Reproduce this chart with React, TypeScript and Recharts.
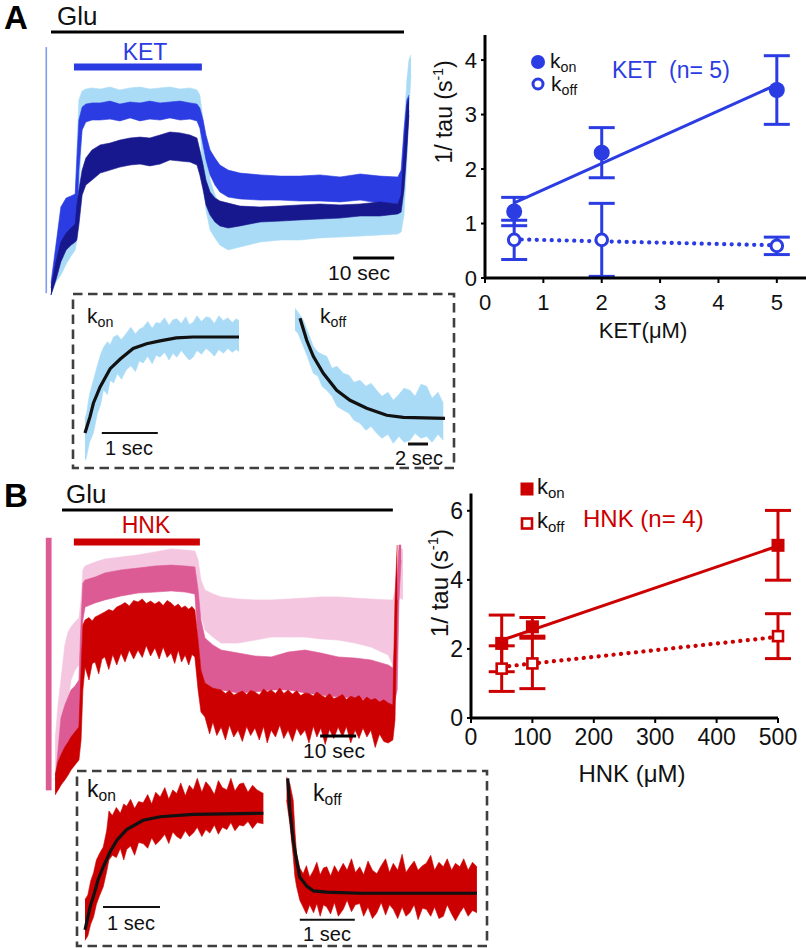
import { ComposedChart, Area, Line, Scatter, ErrorBar, XAxis, YAxis } from 'recharts'

const FONT = '"Liberation Sans", Arial, Helvetica, sans-serif'

const BLUE = '#2b3ce2'
const LIGHT_BLUE = '#a9dbf7'
const NAVY = '#17178e'
const RED = '#cc0000'
const PINK = '#dc5b94'
const LIGHT_PINK = '#f4c6df'
const INK = '#111'

type Band = [number, number, number][] // [time, low, high]
type Pts = [number, number][] // [time, value]

// ---- A: whole-cell traces (time in s, response in % of full scale)
const ketLight: Band = [
  [0, 1.7, 5], [1.2, 6, 12.7], [2.4, 8.3, 28.3], [3.7, 12, 31.7], [4.9, 14.7, 33.3], [5.9, 16.7, 34],
  [6.3, 20, 50], [6.8, 33.3, 66.7], [7.6, 60, 69.7], [8.5, 63.3, 70.3], [10, 64, 70.7], [12, 64, 70.3],
  [14.4, 64, 71], [16.8, 64, 70], [19.3, 64, 70.7], [21.7, 64, 71], [24.1, 64, 70.3], [26.6, 64, 70.7],
  [29, 64, 71], [31.5, 64, 70.3], [33.9, 64, 70.7], [35.6, 64, 70], [36.3, 60, 68.3], [37.1, 40, 60],
  [37.8, 30, 48.3], [38.8, 23.3, 40], [40, 20.7, 35], [41.2, 18.3, 31.7], [43.2, 16.7, 30], [46.1, 17.7, 29.3],
  [51, 19.3, 29.3], [55.9, 20, 29.3], [60.7, 20, 29.3], [65.6, 20.7, 30], [70.5, 21, 30], [75.4, 21.3, 30.7],
  [80.2, 21.7, 30.7], [84.6, 22, 30.7], [85.4, 22.7, 33.3], [86.1, 28.3, 56.7], [86.8, 46.7, 73.3],
  [87.3, 63.3, 80], [87.8, 75, 81.7],
]
const ketMid: Band = [
  [0, 1.7, 5.7], [1.2, 8.3, 18.3], [2.4, 15, 31], [3.7, 18.3, 34], [4.9, 20, 34.7], [5.9, 21.3, 35.3],
  [6.3, 26.7, 46.7], [6.8, 43.3, 60], [7.6, 56.7, 64.3], [8.5, 59.3, 65.3], [10, 60, 65.7], [12, 60, 65.7],
  [14.4, 60.3, 66.3], [16.8, 59.7, 65.3], [19.3, 60.7, 66], [21.7, 59.7, 65.7], [24.1, 60.3, 66.3],
  [26.6, 60, 65.7], [29, 60.7, 66], [31.5, 60, 66.3], [33.9, 60.3, 65.7], [35.6, 59.7, 65.3], [36.3, 57.3, 64],
  [37.1, 51.7, 60], [37.8, 46.7, 55], [38.8, 41.7, 50], [40, 38.3, 47.3], [41.2, 36, 45], [43.2, 34.3, 43.3],
  [46.1, 33.7, 42.3], [51, 33.3, 41.7], [55.9, 33.3, 41.3], [60.7, 33, 41.3], [65.6, 33, 41.7], [70.5, 32.7, 41],
  [75.4, 33.3, 42], [80.2, 32.3, 41.3], [84.6, 32, 41], [85.4, 33.3, 43.3], [86.1, 40, 56.7], [86.8, 53.3, 66.7],
  [87.3, 63.3, 68.3],
]
const ketDark: Band = [
  [0, 1.7, 4], [1.2, 6.7, 12.7], [2.4, 12.7, 19.3], [3.7, 16.7, 22.3], [4.9, 18.3, 24], [5.9, 19.3, 25.3],
  [6.3, 20, 31.7], [6.8, 25, 36.7], [7.6, 35, 43.3], [8.5, 38.3, 47.3], [10, 40, 50], [12, 42.3, 51.7],
  [14.4, 43.3, 52.3], [16.8, 44.3, 53.3], [19.3, 45, 54], [21.7, 45.3, 54.3], [24.1, 44.7, 54], [26.6, 45.3, 55],
  [29, 46.7, 56], [31.5, 46.3, 55.7], [33.9, 46, 55], [35.6, 45, 54], [36.3, 41.7, 50], [37.1, 36.7, 45],
  [37.8, 31.7, 40], [38.8, 28.3, 36], [40, 26, 34], [41.2, 24.7, 33], [43.2, 24, 32.3], [46.1, 24.7, 31.3],
  [51, 26, 31], [55.9, 26.3, 31.3], [60.7, 26.7, 31.7], [65.6, 27, 32], [70.5, 27.3, 31.7], [75.4, 28, 32],
  [80.2, 28, 32.7], [84.6, 28.7, 32], [85.4, 29.3, 35], [86.1, 36.7, 50], [86.8, 50, 65], [87.3, 61.7, 67.3],
]
const ketSpike: Pts = [[-1.15, 84.3], [-1.15, 2.3]]
const gluBarA: Pts = [[0, 89.3], [86.1, 89.3]]
const ketBar: Pts = [[5.6, 77.7], [36.8, 77.7]]
const scaleA: Pts = [[73.7, 14], [83.7, 14]]

// ---- B: whole-cell traces
const hnkLight: Band = [
  [-1.9, 3.3, 20], [-1.1, 8.3, 31.7], [-0.3, 13.3, 40], [0.8, 26.7, 51.7], [1.7, 33.3, 56], [2.5, 40, 57.7],
  [3.6, 43.3, 59.3], [4.7, 45, 60.7], [5.3, 50, 66.7], [5.8, 66.7, 76.7], [6.4, 70, 78], [9.2, 71.7, 79.3],
  [11.9, 71.7, 80.3], [16.4, 73.3, 81], [21.1, 73.3, 81.7], [25.8, 74, 82.7], [30.3, 75, 83.7], [34.2, 75, 83.3],
  [36.9, 74.3, 83], [37.8, 70, 80], [38.6, 61.7, 73.3], [39.7, 56.7, 70], [41.9, 54.3, 68.7], [44.2, 52.3, 67.7],
  [48.9, 52.3, 67], [53.6, 53.3, 66.7], [58.1, 54.3, 66.7], [62.8, 54.3, 67], [67.5, 54.3, 67.3], [71.9, 53.7, 67.7],
  [76.7, 53.3, 67.7], [81.4, 52.3, 67.3], [85.8, 51, 67], [90.6, 48.3, 66.7], [91.9, 45, 66.7], [92.5, 53.3, 70],
  [93.1, 60, 80], [93.6, 66.7, 83.3], [94.2, 67.3, 84], [94.7, 66.7, 83.3],
]
const hnkMid: Band = [
  [-1.9, 2.7, 6.7], [-1.1, 3.3, 16.7], [-0.3, 5, 27.3], [0.8, 8.3, 31.7], [1.7, 11.7, 34.3], [2.5, 15, 36.7],
  [3.6, 18.3, 38], [4.7, 20, 40], [5.3, 33.3, 60], [5.8, 60, 72.3], [6.4, 64.3, 73.3], [9.2, 65.7, 74.3],
  [11.9, 66.7, 75.7], [16.4, 68, 76.7], [21.1, 69, 77.3], [25.8, 69.3, 78], [30.3, 69.7, 78.3], [34.2, 69.3, 78],
  [36.9, 68.7, 77.7], [37.8, 53.3, 70], [38.6, 43.3, 60], [39.7, 39, 54], [41.9, 37.3, 51.7], [44.2, 36.7, 50],
  [48.9, 35.7, 49], [53.6, 36, 48], [58.1, 36.7, 47.7], [62.8, 36.7, 49.3], [67.5, 35.7, 50], [71.9, 35, 49],
  [76.7, 34.3, 47.7], [81.4, 34, 47.3], [85.8, 33.3, 46.7], [90.6, 31.7, 45], [91.9, 31.7, 44], [92.5, 33.3, 53.3],
  [93.1, 36.7, 73.3], [93.6, 66.7, 85], [94.2, 80, 85],
]
const hnkRed: Band = [
  [-1.9, 1.7, 8.3], [-1.1, 3.3, 12.7], [-0.3, 5, 15], [0.8, 6.7, 17.7], [1.7, 8.3, 19.3], [2.5, 10, 21],
  [3.6, 11.7, 22.7], [4.7, 13.3, 24.3], [5.3, 20, 43.3], [5.8, 36.7, 58.3],
  [6.4, 44.3, 60], [7.5, 40, 60.8], [8.4, 45.5, 59.7], [9.2, 46, 61], [10.2, 42, 61.6], [11.1, 47, 62.2],
  [11.9, 47.7, 62.7], [13, 43.5, 63.5], [14.1, 48.5, 63], [15.2, 45, 64.3], [16.4, 49, 65], [17.5, 46, 65.8],
  [18.7, 50, 64.7], [19.9, 47, 66.5], [21.1, 50, 66], [22.3, 47.5, 67], [23.4, 51.5, 65.5], [24.6, 48, 66.3],
  [25.8, 50.7, 65.3], [27, 47, 66.2], [28.1, 51, 64.8], [29.2, 47.5, 66.5], [30.3, 49, 65.7], [31.3, 45.5, 64.5],
  [32.3, 50, 65.3], [33.2, 46, 64], [34.2, 48.3, 64.7], [35.2, 45, 63.6], [36.1, 48.5, 64.5], [36.9, 47.7, 63.3],
  [37.8, 36.7, 53.3], [38.6, 29.3, 43.3],
  [39.7, 27.7, 39], [41, 22, 38], [41.9, 26, 37.3], [43, 21.5, 37], [44.2, 24.3, 36.7], [45.4, 20, 35.5],
  [46.5, 25, 36.5], [47.7, 21, 35], [48.9, 23.3, 35.7], [50.1, 19.5, 36.3], [51.3, 24.5, 35.2], [52.4, 21.5, 36.5],
  [53.6, 24, 36], [54.8, 20, 35], [56, 24.5, 37], [57, 19, 36], [58.1, 23.3, 36.7], [59.3, 21, 35.5],
  [60.5, 25, 37.3], [61.6, 20.5, 35.5], [62.8, 23.3, 36.7], [64, 19.5, 35.3], [65.2, 24, 36.4], [66.3, 21.5, 34.8],
  [67.5, 23.3, 35.7], [68.6, 19, 35.5], [69.8, 24.6, 34.7], [70.8, 21, 36], [71.9, 24, 35], [73.1, 18.5, 34.2],
  [74.3, 23.5, 35.4], [75.5, 20.5, 33.8], [76.7, 24.3, 34.3], [77.9, 21, 35.2], [79, 24.5, 33.5], [80.2, 19, 34.6],
  [81.4, 23.3, 34], [82.5, 20.5, 34.8], [83.6, 24, 33.2], [84.7, 21, 34.3], [85.8, 23.3, 33.3], [87, 17.5, 33.8],
  [88.2, 22, 32.7], [89.4, 19.5, 33.4], [90.6, 19, 32.3], [91.9, 20, 31.7], [92.5, 26.7, 66.7], [93.1, 66.7, 85],
]
const hnkSpike: Band = [[-4.5, 3.3, 87.3], [-2.9, 3.3, 87.3]]
const gluBarB: Pts = [[0, 96.7], [91.9, 96.7]]
const hnkBar: Pts = [[3.3, 86], [38.3, 86]]
const scaleB: Pts = [[71.7, 21.3], [81.7, 21.3]]

// ---- insets (time in s, normalised amplitude)
const ketOnTrace: Band = [
  [0, -0.3, 0.15], [0.03, -0.24, 0.21], [0.08, -0.1, 0.4], [0.15, 0, 0.55], [0.22, 0.2, 0.7], [0.28, 0.3, 0.82],
  [0.33, 0.45, 0.89], [0.4, 0.4, 0.95], [0.45, 0.55, 0.92], [0.51, 0.52, 1.0], [0.58, 0.62, 1.02], [0.65, 0.56, 0.97],
  [0.74, 0.66, 1.04], [0.82, 0.7, 1.1], [0.9, 0.64, 1.03], [0.97, 0.75, 1.08], [1.04, 0.73, 1.1], [1.12, 0.8, 1.16],
  [1.2, 0.72, 1.09], [1.27, 0.81, 1.15], [1.34, 0.79, 1.14], [1.42, 0.84, 1.2], [1.5, 0.76, 1.12], [1.57, 0.83, 1.18],
  [1.64, 0.79, 1.19], [1.72, 0.86, 1.14], [1.8, 0.8, 1.21], [1.86, 0.76, 1.13], [1.93, 0.79, 1.15], [2.0, 0.86, 1.22],
  [2.08, 0.82, 1.16], [2.16, 0.88, 1.21], [2.23, 0.85, 1.2], [2.31, 0.8, 1.14], [2.39, 0.87, 1.22], [2.47, 0.83, 1.17],
  [2.55, 0.88, 1.2], [2.63, 0.84, 1.15], [2.7, 0.87, 1.19], [2.75, 0.85, 1.17],
]
const ketOnFit: Pts = [
  [0, 0], [0.09, 0.17], [0.15, 0.31], [0.27, 0.48], [0.45, 0.67], [0.63, 0.77], [0.86, 0.88], [1.1, 0.93],
  [1.34, 0.96], [1.63, 0.99], [1.93, 1.0], [2.75, 1.0],
]
const ketOnScale: Pts = [[0.3, 0], [1.3, 0]]
const ketOffTrace: Band = [
  [-0.5, 0.88, 1.1], [-0.2, 0.85, 1.06], [0.33, 0.72, 0.98], [0.8, 0.6, 0.86], [1.33, 0.45, 0.72], [1.8, 0.42, 0.66],
  [2.2, 0.32, 0.64], [2.67, 0.28, 0.62], [3.2, 0.22, 0.5], [3.7, 0.12, 0.52], [4.33, 0.08, 0.45], [4.9, 0.05, 0.43],
  [5.4, -0.02, 0.36], [6, -0.05, 0.38], [6.6, -0.12, 0.32], [7.1, -0.08, 0.35], [7.67, -0.15, 0.28], [8.2, -0.2, 0.22],
  [8.8, -0.16, 0.26], [9.33, -0.25, 0.18], [9.9, -0.18, 0.24], [10.4, -0.24, 0.3], [11, -0.22, 0.28], [11.5, -0.15, 0.22],
  [12.1, -0.2, 0.34], [12.67, -0.18, 0.32], [13.2, -0.24, 0.2], [13.8, -0.16, 0.26], [14.33, -0.22, 0.15],
]
const ketOffFit: Pts = [
  [0, 1.0], [0.67, 0.78], [1.33, 0.62], [2.33, 0.45], [3.67, 0.28], [5, 0.18], [6.67, 0.1], [8.67, 0.03],
  [10.33, 0.01], [14.5, 0],
]
const ketOffScale: Pts = [[10.8, -0.257], [12.8, -0.257]]

const hnkOnTrace: Band = [
  [0, -0.09, 0.26], [0.05, -0.05, 0.3], [0.1, 0.05, 0.42], [0.15, 0.11, 0.49], [0.2, 0.22, 0.6], [0.26, 0.3, 0.66],
  [0.32, 0.37, 0.71], [0.38, 0.5, 0.85], [0.42, 0.6, 1.02], [0.48, 0.64, 0.98], [0.55, 0.62, 1.05], [0.62, 0.7, 1.0],
  [0.68, 0.6, 1.08], [0.73, 0.69, 1.06], [0.8, 0.72, 1.12], [0.87, 0.64, 1.04], [0.94, 0.75, 1.1], [1.02, 0.74, 1.09],
  [1.1, 0.7, 1.16], [1.17, 0.79, 1.08], [1.24, 0.73, 1.18], [1.32, 0.77, 1.14], [1.4, 0.82, 1.22], [1.47, 0.74, 1.12],
  [1.54, 0.84, 1.2], [1.61, 0.8, 1.17], [1.68, 0.78, 1.26], [1.76, 0.85, 1.15], [1.83, 0.8, 1.24], [1.9, 0.83, 1.2],
  [1.97, 0.88, 1.3], [2.05, 0.8, 1.18], [2.12, 0.86, 1.27], [2.19, 0.83, 1.23], [2.27, 0.9, 1.16], [2.34, 0.82, 1.28],
  [2.41, 0.88, 1.22], [2.49, 0.86, 1.2], [2.56, 0.92, 1.3], [2.63, 0.85, 1.19], [2.71, 0.9, 1.25], [2.78, 0.89, 1.26],
  [2.86, 0.93, 1.18], [2.94, 0.87, 1.24], [3.02, 0.92, 1.2], [3.13, 0.91, 1.17],
]
const hnkOnFit: Pts = [
  [0, 0], [0.09, 0.2], [0.15, 0.29], [0.23, 0.43], [0.32, 0.54], [0.44, 0.67], [0.56, 0.77], [0.73, 0.86],
  [1.02, 0.94], [1.32, 0.97], [1.9, 0.99], [3.13, 1.0],
]
const hnkOnScale: Pts = [[0.316, 0.197], [1.316, 0.197]]
const hnkOffTrace: Band = [
  [-0.02, 0.81, 1.01], [0.04, 0.6, 0.95], [0.1, 0.32, 0.81], [0.13, 0.15, 0.55], [0.16, 0.06, 0.35], [0.22, -0.06, 0.22],
  [0.28, -0.12, 0.17], [0.34, -0.18, 0.24], [0.4, -0.1, 0.14], [0.47, -0.17, 0.2], [0.53, -0.09, 0.27], [0.59, -0.2, 0.16],
  [0.65, -0.1, 0.22], [0.71, -0.12, 0.23], [0.78, -0.18, 0.15], [0.85, -0.08, 0.24], [0.92, -0.2, 0.18], [1.01, -0.14, 0.26],
  [1.08, -0.06, 0.2], [1.16, -0.16, 0.3], [1.23, -0.1, 0.18], [1.31, -0.09, 0.23], [1.38, -0.2, 0.16], [1.46, -0.12, 0.28],
  [1.54, -0.22, 0.2], [1.62, -0.17, 0.17], [1.7, -0.08, 0.24], [1.78, -0.19, 0.3], [1.85, -0.1, 0.18], [1.92, -0.14, 0.26],
  [2.0, -0.22, 0.2], [2.08, -0.12, 0.34], [2.15, -0.2, 0.18], [2.22, -0.17, 0.23], [2.3, -0.1, 0.28], [2.37, -0.23, 0.2],
  [2.45, -0.13, 0.24], [2.52, -0.14, 0.26], [2.6, -0.2, 0.33], [2.67, -0.12, 0.2], [2.75, -0.22, 0.27], [2.83, -0.2, 0.23],
  [2.9, -0.1, 0.3], [2.98, -0.18, 0.2], [3.05, -0.24, 0.26], [3.13, -0.17, 0.23], [3.2, -0.12, 0.3], [3.28, -0.2, 0.2],
  [3.36, -0.15, 0.27], [3.44, -0.17, 0.23],
]
const hnkOffFit: Pts = [
  [0, 1], [0.04, 0.72], [0.1, 0.46], [0.16, 0.29], [0.22, 0.14], [0.35, 0.06], [0.47, 0.02], [0.71, 0.01],
  [1.31, 0], [3.44, 0],
]
const hnkOffScale: Pts = [[0.22, -0.23], [1.22, -0.23]]

// ---- rate plots
const ketConc = [0.5, 2, 5]
const ketKon = [1.22, 2.3, 3.45]
const ketKonErr = [0.26, 0.46, 0.63]
const ketKoff = [0.7, 0.7, 0.59]
const ketKoffErr = [0.36, 0.67, 0.16]
const ketKonLine: Pts = [[0.5, 1.38], [5, 3.55]]
const ketKoffLine: Pts = [[0.5, 0.71], [5, 0.6]]

const hnkConc = [50, 100, 500]
const hnkKon = [2.16, 2.64, 5.0]
const hnkKonErr = [0.82, 0.27, 1.01]
const hnkKoff = [1.43, 1.58, 2.37]
const hnkKoffErr = [0.66, 0.73, 0.65]
const hnkKonLine: Pts = [[50, 2.25], [500, 4.98]]
const hnkKoffLine: Pts = [[50, 1.48], [500, 2.35]]

type TraceProps = {
  box: [number, number, number, number]
  xDomain: [number, number]
  yDomain: [number, number]
  bands: { data: Band; color: string }[]
  lines: { data: Pts; color: string; width: number }[]
}

function Traces({ box, xDomain, yDomain, bands, lines }: TraceProps) {
  return (
    <div style={{ position: 'absolute', left: box[0], top: box[1] }}>
      <ComposedChart width={box[2]} height={box[3]} margin={{ top: 0, right: 0, bottom: 0, left: 0 }}>
        <XAxis type="number" dataKey="t" domain={xDomain} hide allowDataOverflow />
        <YAxis type="number" domain={yDomain} hide allowDataOverflow />
        {bands.map((b, i) => (
          <Area
            key={'b' + i}
            data={b.data.map(([t, lo, hi]) => ({ t, r: [lo, hi] }))}
            dataKey="r"
            type="linear"
            fill={b.color}
            fillOpacity={1}
            stroke={b.color}
            strokeWidth={0.6}
            isAnimationActive={false}
          />
        ))}
        {lines.map((l, i) => (
          <Line
            key={'l' + i}
            data={l.data.map(([t, v]) => ({ t, v }))}
            dataKey="v"
            type="linear"
            stroke={l.color}
            strokeWidth={l.width}
            dot={false}
            isAnimationActive={false}
          />
        ))}
      </ComposedChart>
    </div>
  )
}

type RateProps = {
  box: [number, number, number, number]
  marginTop: number
  marginRight: number
  xDomain: [number, number]
  yDomain: [number, number]
  xTicks: number[]
  yTicks: number[]
  tickMargin: number
  fontSize: number
  color: string
  conc: number[]
  on: number[]
  onErr: number[]
  off: number[]
  offErr: number[]
  onLine: Pts
  offLine: Pts
  square?: boolean
}

function RatePlot(p: RateProps) {
  const on = p.conc.map((x, i) => ({ x, y: p.on[i], e: p.onErr[i] }))
  const off = p.conc.map((x, i) => ({ x, y: p.off[i], e: p.offErr[i] }))
  const tick = { fill: INK, fontSize: p.fontSize, fontFamily: FONT }
  const filled = (s: any) =>
    p.square
      ? <rect x={s.cx - 6.5} y={s.cy - 6.5} width={13} height={13} fill={p.color} />
      : <circle cx={s.cx} cy={s.cy} r={8} fill={p.color} />
  const open = (s: any) =>
    p.square
      ? <rect x={s.cx - 5} y={s.cy - 5} width={10} height={10} fill="#fff" stroke={p.color} strokeWidth={2.6} />
      : <circle cx={s.cx} cy={s.cy} r={5.8} fill="#fff" stroke={p.color} strokeWidth={3} />
  return (
    <div style={{ position: 'absolute', left: p.box[0], top: p.box[1] }}>
      <ComposedChart
        width={p.box[2]}
        height={p.box[3]}
        margin={{ top: p.marginTop, right: p.marginRight, bottom: 0, left: 0 }}
      >
        <XAxis
          type="number"
          dataKey="x"
          domain={p.xDomain}
          ticks={p.xTicks}
          height={40}
          axisLine={{ stroke: '#000', strokeWidth: 3 }}
          tickLine={{ stroke: '#000', strokeWidth: 2 }}
          tickSize={5}
          tickMargin={p.tickMargin}
          tick={tick}
        />
        <YAxis
          type="number"
          domain={p.yDomain}
          ticks={p.yTicks}
          width={80}
          axisLine={{ stroke: '#000', strokeWidth: 3 }}
          tickLine={{ stroke: '#000', strokeWidth: 2 }}
          tickSize={4}
          tickMargin={4}
          tick={tick}
        />
        <Line data={p.onLine.map(([x, y]) => ({ x, y }))} dataKey="y" stroke={p.color} strokeWidth={3} dot={false} isAnimationActive={false} />
        <Line
          data={p.offLine.map(([x, y]) => ({ x, y }))}
          dataKey="y"
          stroke={p.color}
          strokeWidth={4.2}
          strokeDasharray="0.1 7.4"
          strokeLinecap="round"
          dot={false}
          isAnimationActive={false}
        />
        <Scatter data={off} dataKey="y" shape={open} isAnimationActive={false}>
          <ErrorBar dataKey="e" direction="y" width={13} stroke={p.color} strokeWidth={3} />
        </Scatter>
        <Scatter data={on} dataKey="y" shape={filled} isAnimationActive={false}>
          <ErrorBar dataKey="e" direction="y" width={13} stroke={p.color} strokeWidth={3} />
        </Scatter>
      </ComposedChart>
    </div>
  )
}

function K({ x, y, sub, size, color = INK }: { x: number; y: number; sub: string; size: number; color?: string }) {
  return (
    <text x={x} y={y} fontSize={size} fill={color}>
      k<tspan fontSize={size * 0.68} dy={size * 0.18}>{sub}</tspan>
    </text>
  )
}

function Overlay() {
  const dash = { fill: 'none', stroke: '#3f3f3f', strokeWidth: 2.6, strokeDasharray: '9.5 5.5' }
  return (
    <svg width={806} height={948} style={{ position: 'absolute', left: 0, top: 0, pointerEvents: 'none' }} fontFamily={FONT}>
      {/* panel A */}
      <text x={4} y={29} fontSize={33} fontWeight="bold" fill="#000">A</text>
      <text x={57} y={25} fontSize={26} fill={INK}>Glu</text>
      <text x={145} y={60} fontSize={23} fill={BLUE} textAnchor="middle">KET</text>
      <text x={359} y={280} fontSize={21} fill={INK} textAnchor="middle">10 sec</text>
      <rect x={73} y={294} width={381} height={174} {...dash} />
      <K x={87} y={323} sub="on" size={21} />
      <K x={320} y={323} sub="off" size={21} />
      <text x={129} y={455} fontSize={20} fill={INK} textAnchor="middle">1 sec</text>
      <text x={419} y={465} fontSize={20} fill={INK} textAnchor="middle">2 sec</text>

      <circle cx={538} cy={62} r={7} fill={BLUE} />
      <K x={550} y={68} sub="on" size={21} />
      <circle cx={538} cy={84} r={5} fill="#fff" stroke={BLUE} strokeWidth={3} />
      <K x={551} y={91} sub="off" size={21} />
      <text x={612} y={78} fontSize={23} fill={BLUE} style={{ whiteSpace: 'pre' }}>KET  (n= 5)</text>
      <text transform="translate(452,112) rotate(-90)" fontSize={23} fill={INK} textAnchor="middle">
        1/ tau (s<tspan fontSize={14} dy={-9}>-1</tspan><tspan dy={9}>)</tspan>
      </text>
      <text x={643} y={338} fontSize={22} fill={INK} textAnchor="middle">KET(μM)</text>

      {/* panel B */}
      <text x={4} y={507} fontSize={33} fontWeight="bold" fill="#000">B</text>
      <text x={66} y={503} fontSize={26} fill={INK}>Glu</text>
      <text x={146} y={533} fontSize={23} fill={RED} textAnchor="middle">HNK</text>
      <text x={334} y={758} fontSize={21} fill={INK} textAnchor="middle">10 sec</text>
      <rect x={77} y={771} width={410} height={175} {...dash} />
      <K x={87} y={797} sub="on" size={23} />
      <K x={313} y={801} sub="off" size={23} />
      <text x={131} y={930} fontSize={20} fill={INK} textAnchor="middle">1 sec</text>
      <text x={327} y={941} fontSize={20} fill={INK} textAnchor="middle">1 sec</text>

      <rect x={520.5} y={482.5} width={13} height={13} fill={RED} />
      <K x={537} y={494} sub="on" size={22} />
      <rect x={522} y={518.5} width={10} height={10} fill="#fff" stroke={RED} strokeWidth={2.6} />
      <K x={537} y={528} sub="off" size={22} />
      <text x={583} y={527} fontSize={24} fill={RED}>HNK (n= 4)</text>
      <text transform="translate(448,583) rotate(-90)" fontSize={24} fill={INK} textAnchor="middle">
        1/ tau (s<tspan fontSize={15} dy={-10}>-1</tspan><tspan dy={10}>)</tspan>
      </text>
      <text x={632} y={782} fontSize={24} fill={INK} textAnchor="middle">HNK (μM)</text>
    </svg>
  )
}

export default function App() {
  return (
    <div style={{ position: 'absolute', left: 0, top: 0, width: 806, height: 948, background: '#fff', fontFamily: FONT, overflow: 'hidden' }}>
      <Traces
        box={[30, 0, 390, 300]}
        xDomain={[-5.12, 90]}
        yDomain={[0, 100]}
        bands={[
          { data: ketLight, color: LIGHT_BLUE },
          { data: ketMid, color: BLUE },
          { data: ketDark, color: NAVY },
        ]}
        lines={[
          { data: ketSpike, color: '#7f9cf2', width: 1.6 },
          { data: gluBarA, color: '#000', width: 3 },
          { data: ketBar, color: BLUE, width: 7 },
          { data: scaleA, color: '#000', width: 3 },
        ]}
      />
      <Traces
        box={[80, 300, 170, 160]}
        xDomain={[-0.089, 2.946]}
        yDomain={[-0.281, 1.385]}
        bands={[{ data: ketOnTrace, color: LIGHT_BLUE }]}
        lines={[
          { data: ketOnFit, color: '#111', width: 3.2 },
          { data: ketOnScale, color: '#111', width: 2 },
        ]}
      />
      <Traces
        box={[290, 300, 170, 160]}
        xDomain={[-1, 16]}
        yDomain={[-0.417, 1.183]}
        bands={[{ data: ketOffTrace, color: LIGHT_BLUE }]}
        lines={[
          { data: ketOffFit, color: '#111', width: 3.2 },
          { data: ketOffScale, color: '#111', width: 3 },
        ]}
      />
      <RatePlot
        box={[405, 20, 401, 298]}
        marginTop={15}
        marginRight={0}
        xDomain={[0, 5.5]}
        yDomain={[0, 4.46]}
        xTicks={[0, 1, 2, 3, 4, 5]}
        yTicks={[0, 1, 2, 3, 4]}
        tickMargin={11}
        fontSize={22}
        color={BLUE}
        conc={ketConc}
        on={ketKon}
        onErr={ketKonErr}
        off={ketKoff}
        offErr={ketKoffErr}
        onLine={ketKonLine}
        offLine={ketKoffLine}
      />

      <Traces
        box={[30, 500, 390, 300]}
        xDomain={[-8.89, 99.44]}
        yDomain={[0, 100]}
        bands={[
          { data: hnkSpike, color: PINK },
          { data: hnkLight, color: LIGHT_PINK },
          { data: hnkMid, color: PINK },
          { data: hnkRed, color: RED },
        ]}
        lines={[
          { data: gluBarB, color: '#000', width: 3 },
          { data: hnkBar, color: RED, width: 7 },
          { data: scaleB, color: '#000', width: 3 },
        ]}
      />
      <Traces
        box={[80, 775, 190, 170]}
        xDomain={[-0.088, 3.246]}
        yDomain={[-0.129, 1.328]}
        bands={[{ data: hnkOnTrace, color: RED }]}
        lines={[
          { data: hnkOnFit, color: '#111', width: 3.2 },
          { data: hnkOnScale, color: '#111', width: 2 },
        ]}
      />
      <Traces
        box={[280, 770, 200, 175]}
        xDomain={[-0.14, 3.496]}
        yDomain={[-0.45, 1.072]}
        bands={[{ data: hnkOffTrace, color: RED }]}
        lines={[
          { data: hnkOffFit, color: '#111', width: 3.2 },
          { data: hnkOffScale, color: '#111', width: 2 },
        ]}
      />
      <RatePlot
        box={[391, 480, 417, 278]}
        marginTop={13.5}
        marginRight={30}
        xDomain={[0, 500]}
        yDomain={[0, 6.5]}
        xTicks={[0, 100, 200, 300, 400, 500]}
        yTicks={[0, 2, 4, 6]}
        tickMargin={6}
        fontSize={23}
        color={RED}
        conc={hnkConc}
        on={hnkKon}
        onErr={hnkKonErr}
        off={hnkKoff}
        offErr={hnkKoffErr}
        onLine={hnkKonLine}
        offLine={hnkKoffLine}
        square
      />
      <Overlay />
    </div>
  )
}
